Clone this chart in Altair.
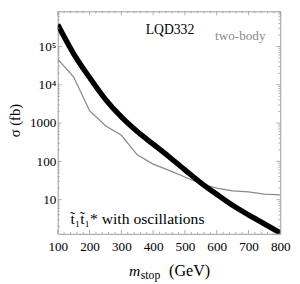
import altair as alt
import pandas as pd

# ---- data ----
mass = [100, 150, 200, 250, 300, 350, 400, 450, 500, 550, 600, 650, 700, 750, 800]
sigma_osc = [3.7e5, 6.46e4, 1.55e4, 4170, 1450, 603, 282, 132, 60, 27.5, 13.8, 7.1, 4.0, 2.34, 1.35]
sigma_two_body = [4.7e4, 1.6e4, 2100, 850, 480, 148, 85, 58, 39, 26, 20, 17, 16, 14, 13.4]

x_major = [100, 200, 300, 400, 500, 600, 700, 800]
x_minor = [v for v in range(100, 801, 20) if v % 100 != 0]
y_major = [10, 100, 1000, 10000, 100000]
y_major_labels = ["10", "100", "1000", "10⁴", "10⁵"]
y_minor = [m * 10 ** k for k in range(0, 6) for m in range(2, 10)]
y_minor = [v for v in y_minor if 1.28 < v < 8.3e5]

X_DOMAIN = [100, 800]
Y_DOMAIN = [1.28, 8.3e5]

W = 228
H = 228
FONT = "Liberation Serif"
FRAME = "#9a9a9a"

df_osc = pd.DataFrame({"m": mass, "sigma": sigma_osc})
df_two = pd.DataFrame({"m": mass, "sigma": sigma_two_body})

xs = alt.Scale(domain=X_DOMAIN, nice=False, zero=False)
ys = alt.Scale(type="log", domain=Y_DOMAIN, nice=False)

label_map = "{" + ",".join(f"'{v}':'{l}'" for v, l in zip(y_major, y_major_labels)) + "}"

x_axis = alt.Axis(values=x_major, title=None, grid=False, domain=False, ticks=False,
                  labelFont=FONT, labelFontSize=13.5, labelColor="black", labelPadding=6,
                  labelFlush=False, labelOverlap=False, format="d")
y_axis = alt.Axis(values=y_major, title=None, grid=False, domain=False, ticks=False,
                  labelFont=FONT, labelFontSize=13.5, labelColor="black", labelPadding=2,
                  labelFlush=False, labelOverlap=False,
                  labelExpr=f"{label_map}[toString(datum.value)]")

X = alt.X("m:Q", scale=xs, axis=x_axis)
Y = alt.Y("sigma:Q", scale=ys, axis=y_axis)

two = alt.Chart(df_two).mark_line(color="#8a8a8a", strokeWidth=1.3, clip=True).encode(x=X, y=Y)
osc = alt.Chart(df_osc).mark_line(color="black", strokeWidth=5.5, clip=True,
                                  interpolate="monotone").encode(x=X, y=Y)

dx_maj = pd.DataFrame({"m": x_major})
dx_min = pd.DataFrame({"m": x_minor})
dy_maj = pd.DataFrame({"sigma": y_major})
dy_min = pd.DataFrame({"sigma": y_minor})

def xticks(df, ln):
    b = alt.Chart(df).mark_rule(color=FRAME, strokeWidth=0.8).encode(
        x=X, y=alt.value(H), y2=alt.value(H - ln))
    t = alt.Chart(df).mark_rule(color=FRAME, strokeWidth=0.8).encode(
        x=X, y=alt.value(0), y2=alt.value(ln))
    return [b, t]

def yticks(df, ln):
    l = alt.Chart(df).mark_rule(color=FRAME, strokeWidth=0.8).encode(
        y=Y, x=alt.value(0), x2=alt.value(ln))
    r = alt.Chart(df).mark_rule(color=FRAME, strokeWidth=0.8).encode(
        y=Y, x=alt.value(W), x2=alt.value(W - ln))
    return [l, r]

ticks = xticks(dx_maj, 4) + xticks(dx_min, 2) + yticks(dy_maj, 4) + yticks(dy_min, 2)

def txt(text, x, y, size=13, color="black", align="left", style="normal"):
    return alt.Chart(pd.DataFrame({"t": [text]})).mark_text(
        font=FONT, fontSize=size, color=color, align=align, baseline="alphabetic",
        fontStyle=style).encode(
        x=alt.value(x), y=alt.value(y), text="t:N")

texts = [
    txt("LQD332", 115, 23, size=14, align="center"),
    txt("two-body", 187, 29, size=13.5, color="#8a8a8a", align="center"),
    txt("t̃₁t̃₁* with oscillations", 13, 218, size=16),
    txt("m", 73, 271, size=16, style="italic"),
    txt("stop", 85, 274, size=12),
    txt("(GeV)", 114, 271, size=16.5),
    alt.Chart(pd.DataFrame({"t": ["σ (fb)"]})).mark_text(
        font=FONT, fontSize=15, color="black", align="center", baseline="middle",
        angle=270).encode(x=alt.value(-44), y=alt.value(112), text="t:N"),
]

chart = alt.layer(two, osc, *ticks, *texts).properties(
    width=W, height=H,
    autosize=alt.AutoSizeParams(type="none"),
    padding={"left": 51, "top": 0, "right": 12, "bottom": 48},
).configure_view(stroke=FRAME, strokeWidth=1)

chart.save("out.html", embed_options={"renderer": "svg", "actions": False})
